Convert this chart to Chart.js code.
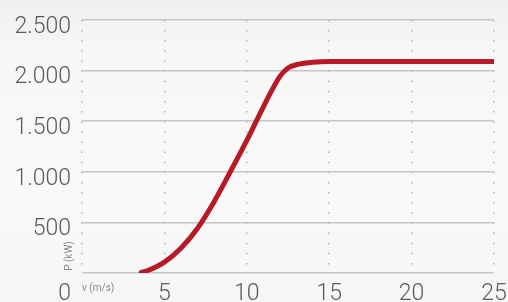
<!DOCTYPE html>
<html>
<head>
<meta charset="utf-8">
<script src="https://cdn.jsdelivr.net/npm/chart.js@4"></script>
<style>
  html, body {
    margin: 0;
    padding: 0;
    overflow: hidden;
  }
  body {
    width: 508px;
    height: 302px;
    background: linear-gradient(to bottom, #efefef 0%, #f7f7f7 18%, #f9f9f9 60%, #f6f6f6 100%);
  }
  canvas {
    display: block;
  }
</style>
</head>
<body>
<canvas id="chart" width="508" height="302"></canvas>
<script>
// wind speed (m/s) and power (kW)
const speeds = [3.6, 4, 5, 6, 7, 8, 9, 10, 11, 12, 12.5, 13, 14, 15, 20, 25];
const power = [5, 25, 108, 245, 440, 700, 1000, 1310, 1640, 1940, 2025, 2058, 2082, 2090, 2090, 2090];

const yTicks = [0, 500, 1000, 1500, 2000, 2500];
const xTicks = [0, 5, 10, 15, 20, 25];
const xTitle = 'v (m/s)';
const yTitle = 'P (kW)';

const formatValue = (value) => {
  return value.toString().replace(/\B(?=(\d{3})+(?!\d))/g, '.');
};

const axisTitles = {
  id: 'axisTitles',
  afterDraw(chart) {
    const { ctx, chartArea } = chart;
    ctx.save();
    ctx.fillStyle = '#8a8a8a';
    ctx.font = '10px Roboto, "DejaVu Sans", sans-serif';
    ctx.textBaseline = 'middle';
    ctx.textAlign = 'left';
    ctx.fillText(xTitle, chartArea.left, chartArea.bottom + 15);

    ctx.translate(chartArea.left - 13, chartArea.bottom - 17);
    ctx.rotate(-Math.PI / 2);
    ctx.textAlign = 'center';
    ctx.fillText(yTitle, 0, 0);
    ctx.restore();
  }
};

const tickFont = { family: 'Roboto, "DejaVu Sans", sans-serif', size: 23, weight: '300' };

new Chart(document.getElementById('chart'), {
  type: 'line',
  data: {
    datasets: [{
      data: speeds.map((v, i) => ({ x: v, y: power[i] })),
      borderColor: '#b71927',
      borderWidth: 5,
      borderCapStyle: 'round',
      borderJoinStyle: 'round',
      pointRadius: 0,
      cubicInterpolationMode: 'monotone',
      fill: false
    }]
  },
  options: {
    responsive: false,
    animation: false,
    layout: {
      padding: { top: 20, right: 14, bottom: 0, left: 0 }
    },
    plugins: {
      legend: { display: false },
      title: { display: false },
      tooltip: { enabled: false }
    },
    scales: {
      x: {
        type: 'linear',
        min: 0,
        max: 25,
        afterBuildTicks: (scale) => {
          scale.ticks = xTicks.map(v => ({ value: v }));
        },
        afterFit: (scale) => {
          scale.height = 29;
          scale.paddingLeft = 0;
          scale.paddingRight = 0;
        },
        grid: {
          color: '#b4b4b4',
          lineWidth: 1.5,
          drawTicks: false
        },
        border: {
          display: false,
          dash: [1.5, 8.62]
        },
        ticks: {
          autoSkip: false,
          padding: 7,
          color: '#5a5a5a',
          font: tickFont,
          maxRotation: 0,
          callback: (value) => value === 0 ? '' : value
        }
      },
      y: {
        min: 0,
        max: 2500,
        afterBuildTicks: (scale) => {
          scale.ticks = yTicks.map(v => ({ value: v }));
        },
        afterFit: (scale) => {
          scale.width = 82;
          scale.paddingTop = 0;
          scale.paddingBottom = 0;
        },
        grid: {
          color: '#c6c6c6',
          lineWidth: 1.5,
          drawTicks: false
        },
        border: {
          display: false
        },
        ticks: {
          autoSkip: false,
          padding: 11,
          labelOffset: 7,
          color: '#5a5a5a',
          font: tickFont,
          // the 0 label sits one line lower, level with the x labels
          callback: (value) => value === 0 ? ['', '0'] : formatValue(value)
        }
      }
    }
  },
  plugins: [axisTitles]
});
</script>
</body>
</html>
